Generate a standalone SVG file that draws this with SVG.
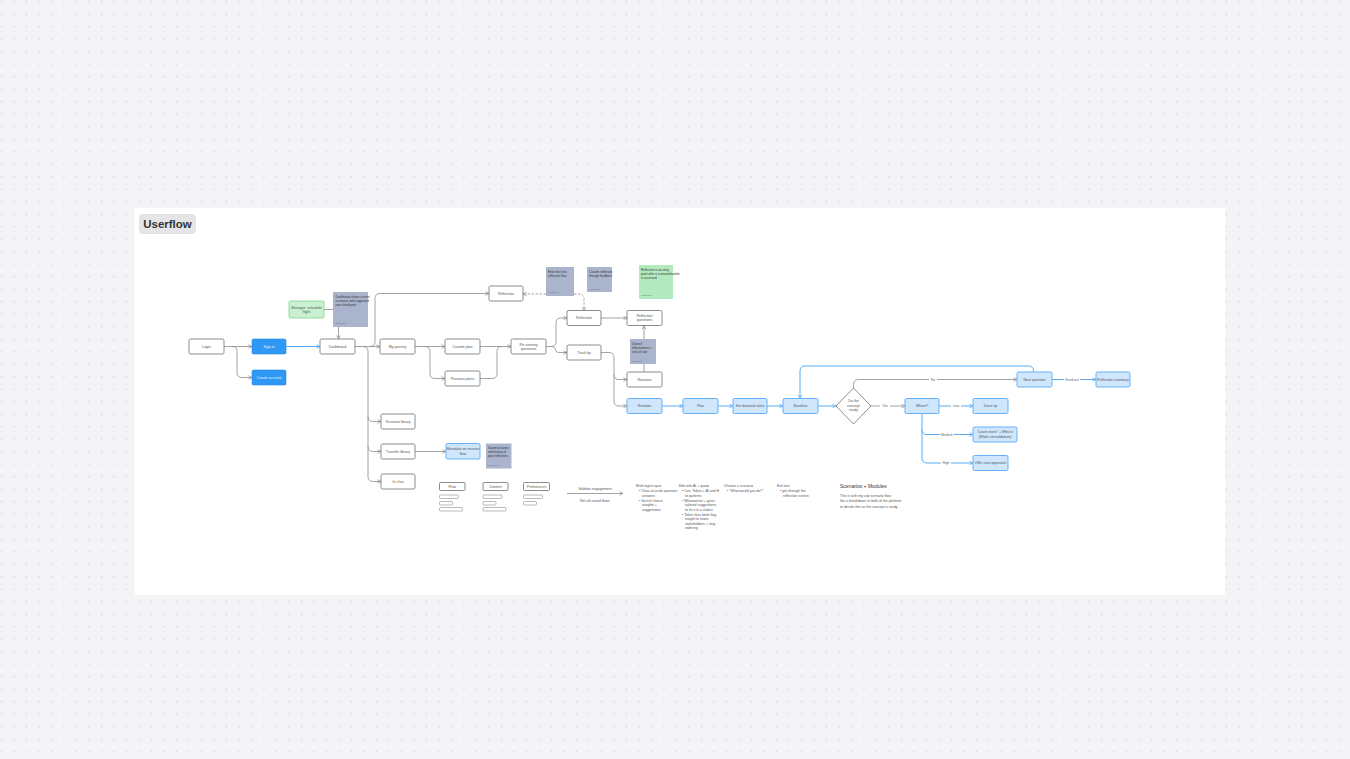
<svg xmlns="http://www.w3.org/2000/svg" width="1350" height="759" viewBox="0 0 1350 759">
<style>
text{font-family:"Liberation Sans",Arial,sans-serif}
.t{font-size:3.6px;fill:#555;text-anchor:middle}
.tw{font-size:3.6px;fill:#eaf4ff;text-anchor:middle}
.ts{font-size:3px;fill:#333}
.tf{font-size:2.4px;fill:#6b7184}
.tb{font-size:3.5px;fill:#555}
.box{fill:#fff;stroke:#707070;stroke-width:0.8}
.blue{fill:#2f98f5;stroke:#2a8cea;stroke-width:0.6}
.lblue{fill:#cfe6fd;stroke:#66b1f6;stroke-width:1}
.sticky{fill:#abb4cd}
.gnote{fill:#c9f0d0;stroke:#7dd38b;stroke-width:0.8}
.gsticky{fill:#b3e9bf}
.cg{fill:none;stroke:#8c8c8c;stroke-width:0.8}
.cb{fill:none;stroke:#5aabf6;stroke-width:1}
.dash{stroke-dasharray:2.5 1.5}
.lbl{font-size:3.4px;fill:#666;text-anchor:middle}
.lbg{fill:#fff}
.li{fill:#fff;stroke:#8a8a8a;stroke-width:0.6}
</style>
<defs>
<pattern id="dots" x="0" y="0" width="12.5" height="12.5" patternUnits="userSpaceOnUse">
<circle cx="1.5" cy="1.7" r="0.65" fill="#c9c9cf"/>
</pattern>
<marker id="ag" viewBox="0 0 10 10" refX="9" refY="5" markerWidth="4.5" markerHeight="4.5" markerUnits="userSpaceOnUse" orient="auto">
<path d="M1,1 L9,5 L1,9" fill="none" stroke="#8c8c8c" stroke-width="1.6"/>
</marker>
<marker id="ab" viewBox="0 0 10 10" refX="9" refY="5" markerWidth="4.5" markerHeight="4.5" markerUnits="userSpaceOnUse" orient="auto">
<path d="M1,1 L9,5 L1,9" fill="none" stroke="#5aabf6" stroke-width="1.8"/>
</marker>
</defs>

<rect x="0" y="0" width="1350" height="759" fill="#f4f3f6"/>
<rect x="0" y="0" width="1350" height="759" fill="url(#dots)"/>
<rect x="135" y="208" width="1090" height="387" fill="#ffffff"/>

<g id="title">
<rect x="139.5" y="214.5" width="56" height="19" rx="3.5" fill="#e5e5e7" stroke="#d6d6d9" stroke-width="0.6"/>
<text x="167.5" y="228" font-size="11.5" font-weight="bold" fill="#333" text-anchor="middle">Userflow</text>
</g>

<g id="connectors">
<path class="cg" d="M224,346.5 H252" marker-end="url(#ag)"/>
<path class="cg" d="M232,346.5 Q237,346.5 237,351.5 V372.5 Q237,377.5 242,377.5 H252" marker-end="url(#ag)"/>
<path class="cb" d="M286,346.5 H320" marker-end="url(#ab)"/>
<path class="cg" d="M324,309.5 H333"/>
<path class="cg" d="M338.5,327 V339" marker-end="url(#ag)"/>
<path class="cg" d="M355,346.5 H380" marker-end="url(#ag)"/>
<path class="cg" d="M370,346.5 Q375,346.5 375,341.5 V298.5 Q375,293.5 380,293.5 H489" marker-end="url(#ag)"/>
<path class="cg" d="M363,346.5 Q368,346.5 368,351.5 V476.5 Q368,481.5 373,481.5 H381" marker-end="url(#ag)"/>
<path class="cg" d="M368,416.5 Q368,421.5 373,421.5 H381" marker-end="url(#ag)"/>
<path class="cg" d="M368,446.5 Q368,451.5 373,451.5 H381" marker-end="url(#ag)"/>
<path class="cg" d="M415,346.5 H445" marker-end="url(#ag)"/>
<path class="cg" d="M425,346.5 Q430,346.5 430,351.5 V373.5 Q430,378.5 435,378.5 H445" marker-end="url(#ag)"/>
<path class="cg" d="M480,346.5 H511" marker-end="url(#ag)"/>
<path class="cg" d="M480,378.5 H492 Q497,378.5 497,373.5 V351.5 Q497,346.5 502,346.5"/>
<path class="cg" d="M546,346.5 H551 Q556,346.5 556,341.5 V323 Q556,318 561,318 H567" marker-end="url(#ag)"/>
<path class="cg" d="M551,346.5 Q556,346.5 556,351.5 Q556,352.5 561,352.5 H567" marker-end="url(#ag)"/>
<path class="cg" d="M601,318 H627" marker-end="url(#ag)"/>
<path class="cg" d="M601,352.5 H609 Q614,352.5 614,357.5 V374.5 Q614,379.5 619,379.5 H627" marker-end="url(#ag)"/>
<path class="cg" d="M614,374.5 V401 Q614,406 619,406 H627" marker-end="url(#ag)"/>
<path class="cg" d="M644,372 V325.5" marker-end="url(#ag)"/>
<path class="cg dash" d="M546,294 H523" marker-end="url(#ag)"/>
<path class="cg dash" d="M574,294 H578.5 Q584,294 584,299.5 V311" marker-end="url(#ag)"/>
<path class="cb" d="M662,406 H683" marker-end="url(#ab)"/>
<path class="cb" d="M718,406 H733" marker-end="url(#ab)"/>
<path class="cb" d="M767,406 H783" marker-end="url(#ab)"/>
<path class="cb" d="M818,406 H836" marker-end="url(#ab)"/>
<path class="cg" d="M871,406 H905" marker-end="url(#ag)"/>
<path class="cg" d="M853.5,388 V384.5 Q853.5,379.5 858.5,379.5 H1017" marker-end="url(#ag)"/>
<path class="cb" d="M1052,379.5 H1096" marker-end="url(#ab)"/>
<path class="cb" d="M1033.5,372 V371 Q1033.5,366 1028.5,366 H805 Q800,366 800,371 V398.5" marker-end="url(#ab)"/>
<path class="cb" d="M939,406 H973" marker-end="url(#ab)"/>
<path class="cb" d="M922,414 V429.5 Q922,434.5 927,434.5 H973" marker-end="url(#ab)"/>
<path class="cb" d="M922,429.5 V458 Q922,463 927,463 H973" marker-end="url(#ab)"/>
<path class="cg" d="M415,451.5 H446" marker-end="url(#ag)"/>
<path class="cg" d="M567,493.5 H623" marker-end="url(#ag)"/>
<rect class="lbg" x="880" y="404" width="10" height="4"/>
<text class="lbl" x="885" y="407.2">Yes</text>
<rect class="lbg" x="929" y="377.5" width="8" height="4"/>
<text class="lbl" x="933" y="380.7">No</text>
<rect class="lbg" x="1064" y="377.5" width="16" height="4"/>
<text class="lbl" x="1072" y="380.7">Feed out</text>
<rect class="lbg" x="951" y="404" width="10" height="4"/>
<text class="lbl" x="956" y="407.2">Low</text>
<rect class="lbg" x="940" y="432.5" width="14" height="4"/>
<text class="lbl" x="947" y="435.7">Medium</text>
<rect class="lbg" x="941" y="461" width="10" height="4"/>
<text class="lbl" x="946" y="464.2">High</text>
</g>

<g id="n-login"><rect class="box" x="189" y="339" width="35" height="15" rx="1.5"/><text class="t" x="206.5" y="347.8">Login</text></g>
<g id="n-signin"><rect class="blue" x="252" y="339" width="34" height="15" rx="1.5"/><text class="tw" x="269" y="347.8">Sign in</text></g>
<g id="n-create"><rect class="blue" x="252" y="370" width="34" height="15" rx="1.5"/><text class="tw" x="269" y="378.8">Create account</text></g>
<g id="n-dashboard"><rect class="box" x="320" y="339" width="35" height="15" rx="1.5"/><text class="t" x="337.5" y="347.8">Dashboard</text></g>
<g id="n-manager"><rect class="gnote" x="289" y="301" width="35" height="17" rx="1.5"/><text class="t" x="306.5" y="308.5">Manager: schedule</text><text class="t" x="306.5" y="313">flight</text></g>
<g id="n-sticky-dash"><rect class="sticky" x="333" y="292" width="35" height="35"/><text class="ts" x="335.5" y="297.5">Dashboard shows current</text><text class="ts" x="335.5" y="301.5">scenarios and suggested</text><text class="ts" x="335.5" y="305.5">next checkpoint</text><text class="tf" x="335.5" y="324">Comment</text></g>
<g id="n-myjourney"><rect class="box" x="380" y="339" width="35" height="15" rx="1.5"/><text class="t" x="397.5" y="347.8">My journey</text></g>
<g id="n-customplan"><rect class="box" x="445" y="339" width="35" height="15" rx="1.5"/><text class="t" x="462.5" y="347.8">Custom plan</text></g>
<g id="n-prevplans"><rect class="box" x="445" y="371" width="35" height="15" rx="1.5"/><text class="t" x="462.5" y="379.8">Previous plans</text></g>
<g id="n-reflection1"><rect class="box" x="489" y="286" width="34" height="15" rx="1.5"/><text class="t" x="506" y="294.8">Reflection</text></g>
<g id="n-sticky-r1"><rect class="sticky" x="546" y="267" width="28" height="29"/><text class="ts" x="548" y="272.5">Enter fast into</text><text class="ts" x="548" y="276.5">reflection flow</text><text class="tf" x="548" y="293">Comment</text></g>
<g id="n-sticky-r2"><rect class="sticky" x="587" y="267" width="25" height="25"/><text class="ts" x="589" y="272.5">Custom reflection</text><text class="ts" x="589" y="276.5">through feedback</text><text class="tf" x="589" y="289.5">Comment</text></g>
<g id="n-green-sticky"><rect class="gsticky" x="639" y="265" width="34" height="34"/><text class="ts" x="641" y="270.5">Reflection is an entry</text><text class="ts" x="641" y="274.5">point after a scenario/module</text><text class="ts" x="641" y="278.5">is accessed</text><text class="tf" x="641" y="296">Comment</text></g>
<g id="n-rerun"><rect class="box" x="511" y="339" width="35" height="15" rx="1.5"/><text class="t" x="528.5" y="345.8">Re-running</text><text class="t" x="528.5" y="350.3">questions</text></g>
<g id="n-reflection2"><rect class="box" x="567" y="310.5" width="34" height="15" rx="1.5"/><text class="t" x="584" y="319.3">Reflection</text></g>
<g id="n-reflq"><rect class="box" x="627" y="310.5" width="35" height="15" rx="1.5"/><text class="t" x="644.5" y="316.8">Reflection</text><text class="t" x="644.5" y="321.3">questions</text></g>
<g id="n-track"><rect class="box" x="567" y="345" width="34" height="15" rx="1.5"/><text class="t" x="584" y="353.8">Track by</text></g>
<g id="n-sticky-eff"><rect class="sticky" x="630" y="339" width="26" height="25"/><text class="ts" x="632" y="344.5">Doesn't</text><text class="ts" x="632" y="348.5">effectiveness +</text><text class="ts" x="632" y="352.5">ratio of rate</text><text class="tf" x="632" y="361.5">Comment</text></g>
<g id="n-reasons"><rect class="box" x="627" y="372" width="35" height="15" rx="1.5"/><text class="t" x="644.5" y="380.8">Reasons</text></g>
<g id="n-rotation"><rect class="lblue" x="627" y="398.5" width="35" height="15" rx="1.5"/><text class="t" x="644.5" y="407.3">Rotation</text></g>
<g id="n-plan"><rect class="lblue" x="683" y="398.5" width="35" height="15" rx="1.5"/><text class="t" x="700.5" y="407.3">Plan</text></g>
<g id="n-setdemand"><rect class="lblue" x="733" y="398.5" width="34" height="15" rx="1.5"/><text class="t" x="750" y="407.3">Set demand value</text></g>
<g id="n-baseline"><rect class="lblue" x="783" y="398.5" width="35" height="15" rx="1.5"/><text class="t" x="800.5" y="407.3">Baseline</text></g>
<g id="n-decision"><polygon points="836,406 853.5,388 871,406 853.5,424" fill="#fff" stroke="#707070" stroke-width="0.8" stroke-linejoin="round"/><text class="t" x="853.5" y="402">Do the</text><text class="t" x="853.5" y="406.5">concept</text><text class="t" x="853.5" y="411">ready</text></g>
<g id="n-nextq"><rect class="lblue" x="1017" y="372" width="35" height="15" rx="1.5"/><text class="t" x="1034.5" y="380.8">Next question</text></g>
<g id="n-reflsum"><rect class="lblue" x="1096" y="372" width="34" height="15" rx="1.5"/><text class="t" x="1113" y="380.8">Reflection summary</text></g>
<g id="n-where"><rect class="lblue" x="905" y="398.5" width="34" height="15" rx="1.5"/><text class="t" x="922" y="407.3">Where?</text></g>
<g id="n-low"><rect class="lblue" x="973" y="398.5" width="35" height="15" rx="1.5"/><text class="t" x="990.5" y="407.3">Done tip</text></g>
<g id="n-medium"><rect class="lblue" x="973" y="427" width="44" height="15" rx="1.5"/><text class="t" x="995" y="433.3">"Learn more" + Effects</text><text class="t" x="995" y="437.8">(Work consolidation)</text></g>
<g id="n-high"><rect class="lblue" x="973" y="455.5" width="35" height="15" rx="1.5"/><text class="t" x="990.5" y="464.3">Offer next approach</text></g>
<g id="n-scenlib"><rect class="box" x="381" y="414" width="34" height="15" rx="1.5"/><text class="t" x="398" y="422.8">Scenario library</text></g>
<g id="n-translib"><rect class="box" x="381" y="444" width="34" height="15" rx="1.5"/><text class="t" x="398" y="452.8">Transfer library</text></g>
<g id="n-inchat"><rect class="box" x="381" y="474" width="34" height="15" rx="1.5"/><text class="t" x="398" y="482.8">In chat</text></g>
<g id="n-metadata"><rect class="lblue" x="446" y="443.5" width="34" height="15.5" rx="1.5"/><text class="t" x="463" y="450">Metadata on session</text><text class="t" x="463" y="454.5">flow</text></g>
<g id="n-sticky-meta"><rect class="sticky" x="486" y="443.5" width="25.5" height="25"/><text class="ts" x="488" y="449">Saved sessions</text><text class="ts" x="488" y="453">and history of</text><text class="ts" x="488" y="457">past reflections</text><text class="tf" x="488" y="466">Comment</text></g>
<g id="n-flow"><rect class="box" x="439.5" y="482.5" width="25.5" height="8" rx="1"/><text class="t" x="452.2" y="487.8">Flow</text>
<rect class="li" x="439.5" y="495" width="19" height="3.5" rx="1"/><rect class="li" x="439.5" y="501.5" width="13" height="3.5" rx="1"/><rect class="li" x="439.5" y="507.5" width="23" height="3.5" rx="1"/></g>
<g id="n-content"><rect class="box" x="483" y="482.5" width="25" height="8" rx="1"/><text class="t" x="495.5" y="487.8">Content</text>
<rect class="li" x="483" y="495" width="19" height="3.5" rx="1"/><rect class="li" x="483" y="501.5" width="13" height="3.5" rx="1"/><rect class="li" x="483" y="507.5" width="23" height="3.5" rx="1"/></g>
<g id="n-prefs"><rect class="box" x="523.5" y="482.5" width="26" height="8" rx="1"/><text class="t" x="536.5" y="487.8">Preferences</text>
<rect class="li" x="523.5" y="495" width="19" height="3.5" rx="1"/><rect class="li" x="523.5" y="501.5" width="13" height="3.5" rx="1"/></g>

<g id="legend">
<text class="t" x="595" y="489.5">Validate engagement</text>
<text class="t" x="595" y="501.5">Net all-round flows</text>
</g>

<g id="notes">
<text class="tb" x="636" y="486.5">Multi-layers quiz</text>
<text class="tb" x="639" y="492">• Clear-at-scale question</text>
<text class="tb" x="642" y="496.5">answers</text>
<text class="tb" x="639" y="501.5">• Sort of choice,</text>
<text class="tb" x="642" y="506">insights +</text>
<text class="tb" x="642" y="510.5">suggestions</text>

<text class="tb" x="679" y="486.5">Edit with AI + quota</text>
<text class="tb" x="682" y="492">• Cos: Token + AI and H</text>
<text class="tb" x="685" y="496.5">to patterns</text>
<text class="tb" x="682" y="501.5">• Whatsoever + gives</text>
<text class="tb" x="685" y="506">tailored suggestions</text>
<text class="tb" x="685" y="510.5">to fix it in a stakes</text>
<text class="tb" x="682" y="515.5">• Token loss limits flag</text>
<text class="tb" x="685" y="520">insight to move</text>
<text class="tb" x="685" y="524.5">stakeholders + stay</text>
<text class="tb" x="685" y="529">ordering</text>

<text class="tb" x="724" y="486.5">Choose a scenario</text>
<text class="tb" x="727" y="492">• "What would you do?"</text>

<text class="tb" x="777" y="486.5">Exit test</text>
<text class="tb" x="780" y="492">• get through the</text>
<text class="tb" x="783" y="496.5">reflection screen</text>

<text x="840" y="487.5" font-size="5" fill="#333">Scenarios + Modules</text>
<text class="tb" x="840" y="496.5">This is with my cop scenario flow</text>
<text class="tb" x="840" y="502">like a breakdown to both of the platform</text>
<text class="tb" x="840" y="507.5">to decide this so the concept is ready</text>
</g>
</svg>
